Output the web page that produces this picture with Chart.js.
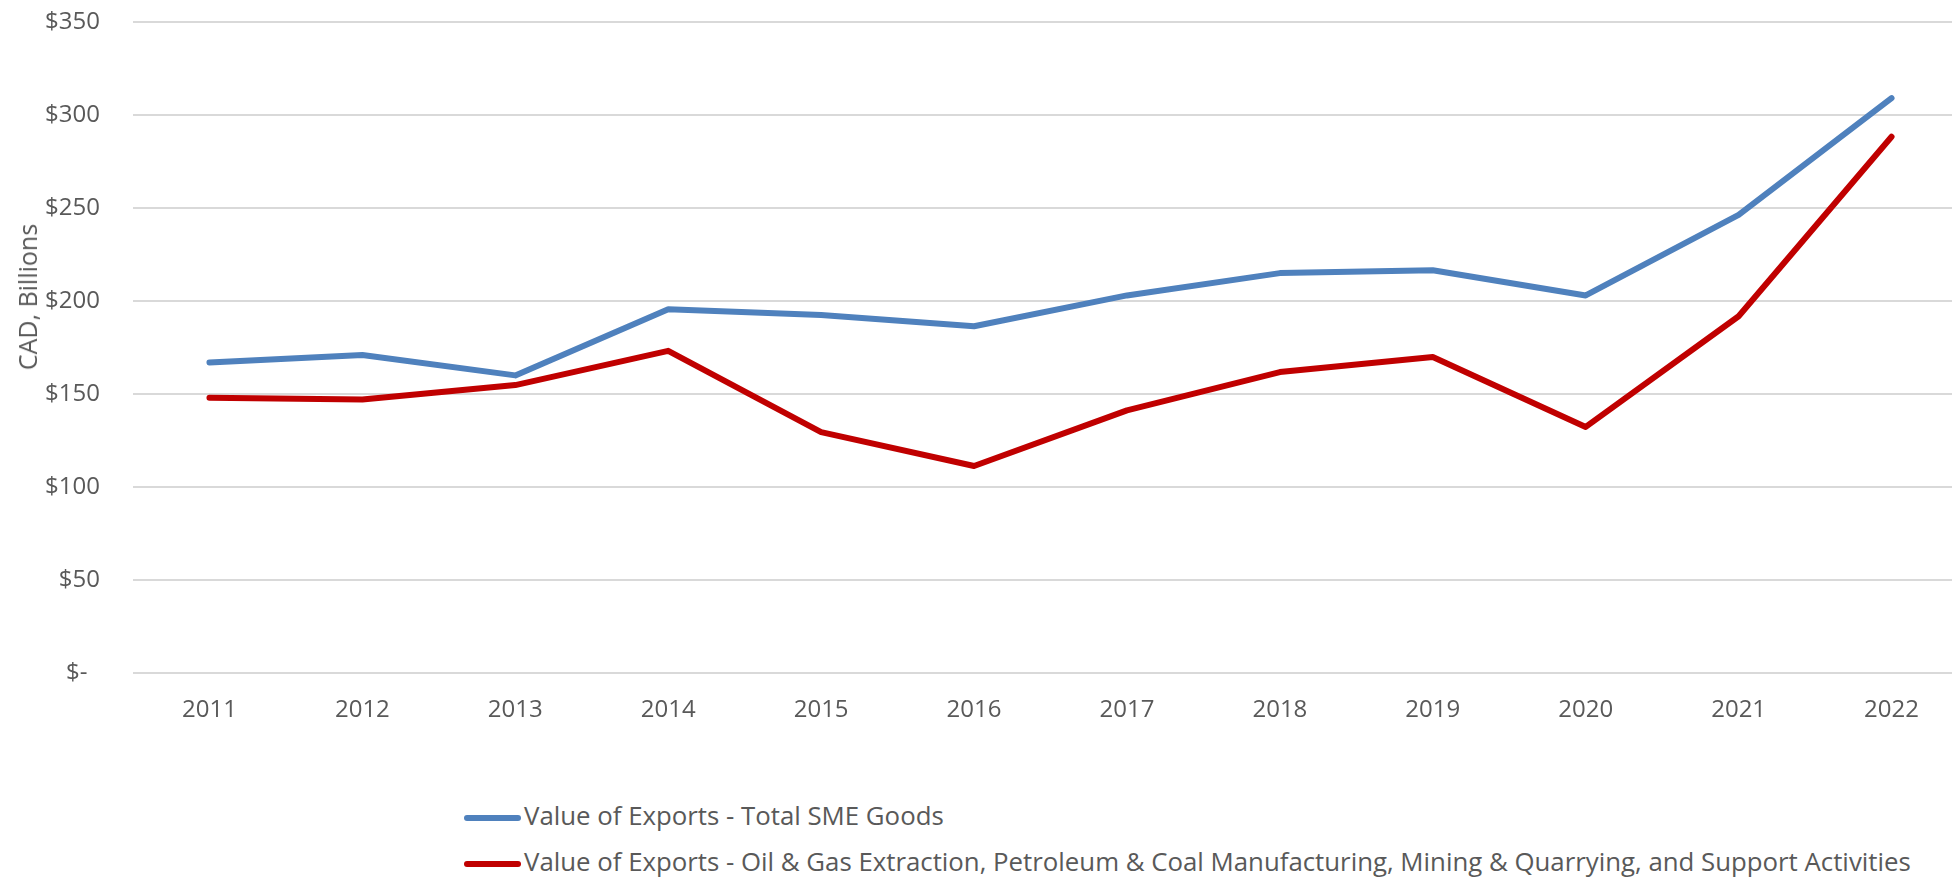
<!DOCTYPE html>
<html>
<head>
<meta charset="utf-8">
<script src="https://cdn.jsdelivr.net/npm/chart.js"></script>
<style>
  body { margin: 0; background: #fff; overflow: hidden; width: 1952px; height: 879px; position: relative; }
  #myChart { position: absolute; left: 0; top: 0; }
  .ytitle { position: absolute; left: 27px; top: 297px; transform: translate(-50%, -50%) rotate(-90deg);
            font: 25px "Open Sans", sans-serif; color: #595959; white-space: nowrap; }
  .leg { position: absolute; left: 464px; font: 25.8px "Open Sans", sans-serif; color: #595959; white-space: nowrap; }
  .leg span { display: inline-block; width: 57px; height: 6px; border-radius: 3px; vertical-align: middle; margin-right: 3px; }
</style>
</head>
<body>
<canvas id="myChart" width="1968" height="760"></canvas>
<div class="ytitle">CAD, Billions</div>
<div id="legend"></div>
<script>
// years on the x axis
var years = ['2011', '2012', '2013', '2014', '2015', '2016', '2017', '2018', '2019', '2020', '2021', '2022'];

// values, CAD billions
var totalSme = [167, 171, 160, 195.5, 192.5, 186.4, 203, 215, 216.5, 203, 246.3, 309.1];
var oilGasMining = [148, 147, 154.8, 173.2, 129.5, 111.3, 141.2, 161.8, 169.9, 132.3, 191.8, 288.3];

var seriesNames = [
   'Value of Exports - Total SME Goods',
   'Value of Exports - Oil & Gas Extraction, Petroleum & Coal Manufacturing, Mining & Quarrying, and Support Activities'
];
var seriesColors = ['#4f81bd', '#c00000'];

var yMax = 350;
var yStep = 50;

const ctx = document.getElementById('myChart');
var chart = new Chart(ctx, {
   type: 'line',
   data: {
      labels: years,
      datasets: [{
         label: seriesNames[0],
         data: totalSme,
         borderColor: seriesColors[0],
         backgroundColor: seriesColors[0]
      }, {
         label: seriesNames[1],
         data: oilGasMining,
         borderColor: seriesColors[1],
         backgroundColor: seriesColors[1]
      }]
   },
   options: {
      responsive: false,
      animation: false,
      devicePixelRatio: 1,
      layout: { padding: { top: 22, left: 0, right: 0, bottom: 0 } },
      elements: {
         line: { borderWidth: 6, tension: 0, borderCapStyle: 'round', borderJoinStyle: 'round' },
         point: { radius: 0, hoverRadius: 0 }
      },
      plugins: {
         legend: { display: false },
         tooltip: { enabled: false }
      },
      scales: {
         x: {
            offset: true,
            grid: { display: false },
            border: { display: false },
            ticks: { color: '#595959', font: { family: 'Open Sans', size: 24 }, padding: 15, maxRotation: 0 },
            afterFit: function(s) { s.height = 87; }
         },
         y: {
            min: 0,
            max: yMax,
            grid: { color: '#d9d9d9', lineWidth: 2, drawTicks: false },
            border: { display: false },
            ticks: {
               stepSize: yStep,
               color: '#595959',
               font: { family: 'Open Sans', size: 24 },
               padding: 33,
               callback: function(v) { return v === 0 ? '$-  ' : '$' + v; }
            },
            afterFit: function(s) {
               // tick padding would otherwise push the plot top down
               s.width = 133;
               s.paddingTop = 0;
               s.paddingBottom = 0;
            }
         }
      }
   }
});

// legend below the chart, one series per row
var legendTops = [815, 861];
var legend = document.getElementById('legend');
seriesNames.forEach(function(name, i) {
   var d = document.createElement('div');
   d.className = 'leg';
   d.style.top = (legendTops[i] - 18) + 'px';
   d.innerHTML = '<span style="background:' + seriesColors[i] + '"></span>';
   d.appendChild(document.createTextNode(name));
   legend.appendChild(d);
});
</script>
</body>
</html>
